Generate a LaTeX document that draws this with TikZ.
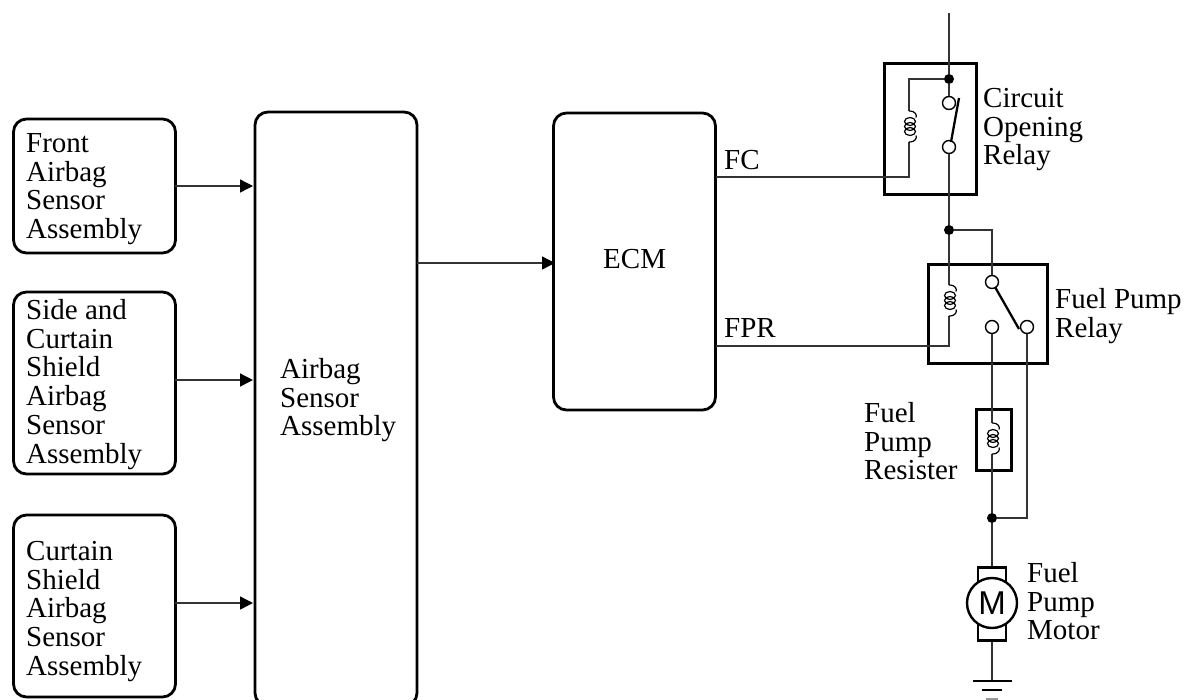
\documentclass[tikz,border=0pt]{standalone}
\usepackage{fontspec}
\setmainfont{Liberation Serif}
\setsansfont{Liberation Sans}
\usetikzlibrary{arrows.meta}
\tikzset{
  x=1pt,y=-1pt,
  block/.style={draw=black,line width=2.8pt,rounded corners=13pt,inner sep=0pt,outer sep=0pt,anchor=north west},
  relaybox/.style={draw=black,line width=3pt,inner sep=0pt,outer sep=0pt,anchor=north west},
  wire/.style={draw=black!80,line width=1.4pt},
  flow/.style={wire,-{Triangle[length=13pt,width=13pt,black]}},
  lbl/.style={align=left,anchor=north west,inner sep=0pt,font=\fontsize{29}{28.8}\selectfont},
  term/.style={circle,draw=black,line width=1.4pt,fill=white,minimum size=13pt,inner sep=0pt},
  dotj/.style={circle,fill=black,minimum size=10pt,inner sep=0pt},
  contact/.style={draw=black,line width=2.3pt},
  coilpic/.pic={
    \draw[black,line width=1.2pt] (0,-15.5) .. controls (7,-15.5) and (8,-11) .. (7,-9);
    \draw[black,line width=1.2pt] (0,15.5) .. controls (7,15.5) and (8,11) .. (7,9);
    \foreach \k in {-5,0,5}{\draw[black,line width=1.2pt] (1,\k) ellipse[x radius=5.5pt,y radius=4pt];}
  },
}
\newcommand{\fl}{\rule{0pt}{20pt}}
\begin{document}
\begin{tikzpicture}
\useasboundingbox (0,0) rectangle (1186,699);
% blocks
\node[block,minimum width=162pt,minimum height=134pt] (front) at (13.5,119) {};
\node[block,minimum width=162pt,minimum height=182pt] (side) at (13.5,292) {};
\node[block,minimum width=162pt,minimum height=182pt] (curtain) at (13.5,515) {};
\node[block,minimum width=162pt,minimum height=594pt] (airbag) at (255,112) {};
\node[block,minimum width=162pt,minimum height=297pt] (ecm) at (553.5,113) {};
% labels
\node[lbl] (t1) at (26,132) {\fl Front\\Airbag\\Sensor\\Assembly};
\node[lbl] (t2) at (26,299) {\fl Side and\\Curtain\\Shield\\Airbag\\Sensor\\Assembly};
\node[lbl] (t3) at (26,540) {\fl Curtain\\Shield\\Airbag\\Sensor\\Assembly};
\node[lbl] (t4) at (280,358) {\fl Airbag\\Sensor\\Assembly};
\node[lbl] (t5) at (603,248) {\fl ECM};
\node[lbl] (fc) at (724,149) {\fl FC};
\node[lbl] (fpr) at (724,317) {\fl FPR};
\node[lbl] (t6) at (983,87) {\fl Circuit\\Opening\\Relay};
\node[lbl] (t7) at (1055,288) {\fl Fuel Pump\\Relay};
\node[lbl] (t8) at (864,402) {\fl Fuel\\Pump\\Resister};
\node[lbl] (t9) at (1027,562) {\fl Fuel\\Pump\\Motor};
% arrows
\coordinate (s1) at (175,186);
\coordinate (s2) at (175,380);
\coordinate (s3) at (175,603);
\coordinate (a1) at (253,186);
\coordinate (a2) at (253,380);
\coordinate (a3) at (253,603);
\coordinate (a0) at (417,263);
\coordinate (e0) at (555,263);
\draw[flow] (s1) -- (a1);
\draw[flow] (s2) -- (a2);
\draw[flow] (s3) -- (a3);
\draw[flow] (a0) -- (e0);
% relay boxes
\node[relaybox,minimum width=92pt,minimum height=131pt] (r1) at (884,63) {};
\node[relaybox,minimum width=119pt,minimum height=99pt] (r2) at (928,264) {};
\node[relaybox,minimum width=35pt,minimum height=61pt] (res) at (976,409.5) {};
% points
\coordinate (top) at (949,13);
\coordinate (fcout) at (716,177);
\coordinate (fprout) at (716,346);
\coordinate (fcb) at (909,177);
\coordinate (fpb) at (949,346);
\coordinate (k1t) at (909,111);
\coordinate (k1b) at (909,142);
\coordinate (k2t) at (949,285);
\coordinate (k2b) at (949,316);
\coordinate (k3t) at (992,423);
\coordinate (k3b) at (992,454);
\coordinate (mtop) at (992,567);
\coordinate (mbot) at (992,641);
\coordinate (gnd) at (992,681);
\coordinate (g1l) at (973,681);
\coordinate (g1r) at (1012,681);
\coordinate (g2l) at (982,690);
\coordinate (g2r) at (1002,690);
\coordinate (g3l) at (986,699);
\coordinate (g3r) at (998,699);
\coordinate (sw1a) at (951,142);
\coordinate (sw1b) at (959,98);
\coordinate (sw2a) at (995,287);
\coordinate (sw2b) at (1019,329);
\node[dotj] (j1) at (949,79) {};
\node[dotj] (j2) at (949,230) {};
\node[dotj] (j3) at (992,518) {};
\node[term] (c1a) at (949,103) {};
\node[term] (c1b) at (949,147) {};
\node[term] (c2a) at (992,282) {};
\node[term] (c2b) at (992,327) {};
\node[term] (c2c) at (1027,327) {};
% wires
\draw[wire] (top) -- (j1) -- (c1a);
\draw[wire] (c1b) -- (j2);
\draw[wire] (j2) -| (c2a);
\draw[wire] (j2) -- (k2t);
\draw[wire] (k2b) -- (fpb) -- (fprout);
\draw[wire] (j1) -| (k1t);
\draw[wire] (k1b) -- (fcb) -- (fcout);
\draw[wire] (c2b) -- (k3t);
\draw[wire] (k3b) -- (j3);
\draw[wire] (c2c) |- (j3);
\draw[wire] (j3) -- (mtop);
\draw[wire] (mbot) -- (gnd);
\draw[contact] (sw1a) -- (sw1b);
\draw[contact] (sw2a) -- (sw2b);
% coils
\pic at (909,126.5) {coilpic};
\pic at (949,300.5) {coilpic};
\pic at (992,438.5) {coilpic};
% motor
\draw[black,line width=2.4pt] (978,590) -- (978,567.5) -- (1006,567.5) -- (1006,590);
\draw[black,line width=2.4pt] (978,616) -- (978,640.5) -- (1006,640.5) -- (1006,616);
\node[circle,draw=black,line width=2.4pt,fill=white,minimum size=50pt,inner sep=0pt,outer sep=0pt,font=\sffamily\fontsize{33}{33}\selectfont] (motor) at (992,603) {M};
% ground
\draw[black,line width=2.4pt] (g1l) -- (g1r);
\draw[black,line width=1.4pt] (g2l) -- (g2r);
\draw[black!40,line width=1.4pt] (g3l) -- (g3r);
\end{tikzpicture}
\end{document}
